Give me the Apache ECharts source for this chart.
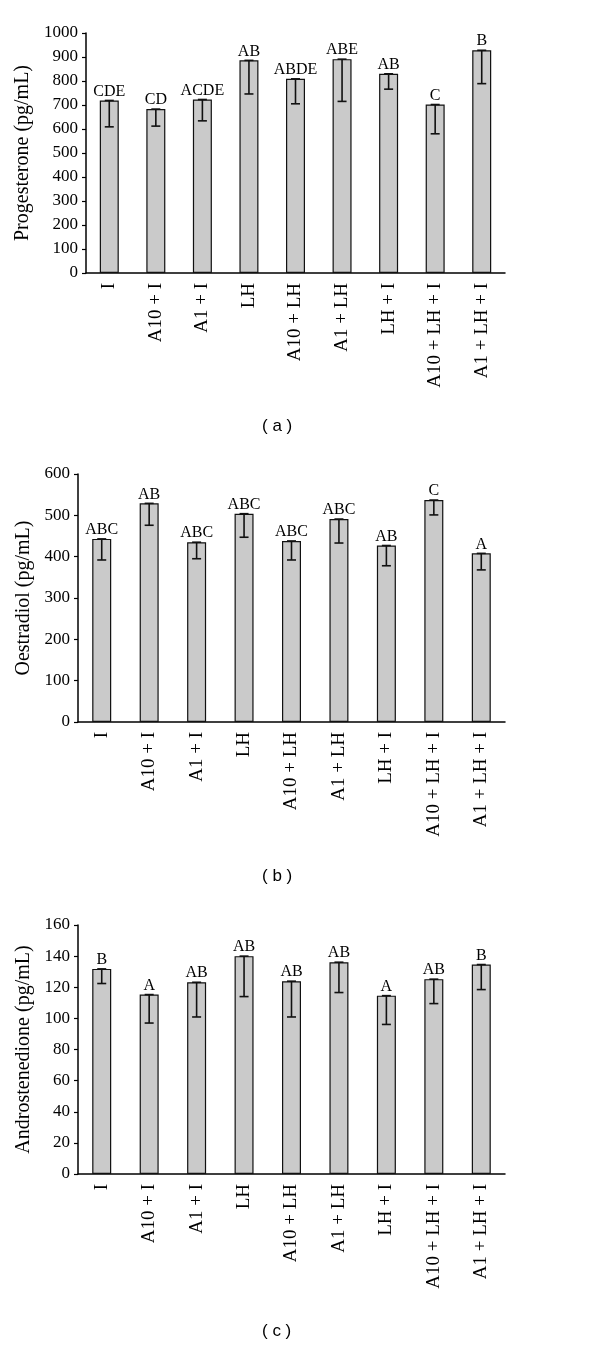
<!DOCTYPE html>
<html>
<head>
<meta charset="utf-8">
<script src="https://cdn.jsdelivr.net/npm/echarts@6/dist/echarts.min.js"></script>
<style>
  html, body { margin: 0; padding: 0; background: #fff; }
  #chart { width: 600px; height: 1346px; }
</style>
</head>
<body>
<div id="chart"></div>
<script>
// treatment groups, same for every panel
const groups = ['I', 'A10 + I', 'A1 + I', 'LH', 'A10 + LH', 'A1 + LH', 'LH + I', 'A10 + LH + I', 'A1 + LH + I']

// (a) progesterone
const progMean = [719, 683, 723, 886, 809, 891, 830, 702, 928]
const progSd = [110, 71, 89, 140, 104, 176, 64, 122, 139]
const progLetters = ['CDE', 'CD', 'ACDE', 'AB', 'ABDE', 'ABE', 'AB', 'C', 'B']

// (b) oestradiol
const oesMean = [443, 529, 435, 504, 438, 491, 427, 537, 408]
const oesSd = [51, 53, 40, 57, 46, 58, 49, 36, 40]
const oesLetters = ['ABC', 'AB', 'ABC', 'ABC', 'ABC', 'ABC', 'AB', 'C', 'A']

// (c) androstenedione
const andMean = [131.8, 115.3, 123.2, 140, 123.9, 136.1, 114.6, 125.2, 134.6]
const andSd = [9.4, 18.3, 22.3, 26, 23, 19.5, 18.5, 15.7, 16.1]
const andLetters = ['B', 'A', 'AB', 'AB', 'AB', 'AB', 'A', 'AB', 'B']

const serif = 'Liberation Serif'
const chart = echarts.init(document.getElementById('chart'))

function xAxisFor(i) {
  return {
    type: 'category',
    gridIndex: i,
    data: groups,
    axisLine: { lineStyle: { color: '#000', width: 1.5 } },
    axisTick: { length: 4, lineStyle: { color: '#000', width: 1.2 } },
    axisLabel: { rotate: 90, margin: 10, color: '#000', fontFamily: serif, fontSize: 19 },
  }
}

function yAxisFor(i, name, max, step, gap) {
  return {
    type: 'value',
    gridIndex: i,
    min: 0,
    max: max,
    interval: step,
    name: name,
    nameLocation: 'middle',
    nameGap: gap,
    nameTextStyle: { color: '#000', fontFamily: serif, fontSize: 20 },
    splitLine: { show: false },
    axisLine: { show: true, lineStyle: { color: '#000', width: 1.5 } },
    axisTick: { show: true, length: 4, lineStyle: { color: '#000', width: 1.2 } },
    axisLabel: { margin: 8, color: '#000', fontFamily: serif, fontSize: 17, formatter: (v) => String(v) },
  }
}

function barFor(i, mean, letters) {
  return {
    type: 'bar',
    xAxisIndex: i,
    yAxisIndex: i,
    data: mean,
    barWidth: 19,
    itemStyle: { color: '#cacaca', borderColor: '#111', borderWidth: 1.2 },
    label: {
      show: true,
      position: 'top',
      distance: 1,
      color: '#000',
      fontFamily: serif,
      fontSize: 16,
      formatter: (p) => letters[p.dataIndex],
    },
    z: 2,
  }
}

// error bar only goes down from the bar top
function errFor(i, mean, sd) {
  return {
    type: 'custom',
    xAxisIndex: i,
    yAxisIndex: i,
    data: mean.map((v, k) => [k, v, v - sd[k]]),
    z: 5,
    renderItem: (params, api) => {
      const top = api.coord([api.value(0), api.value(1)])
      const low = api.coord([api.value(0), api.value(2)])
      const w = 4.5
      const style = { stroke: '#111', lineWidth: 1.6 }
      return {
        type: 'group',
        children: [
          { type: 'line', shape: { x1: top[0], y1: top[1], x2: low[0], y2: low[1] }, style },
          { type: 'line', shape: { x1: top[0] - w, y1: top[1], x2: top[0] + w, y2: top[1] }, style },
          { type: 'line', shape: { x1: low[0] - w, y1: low[1], x2: low[0] + w, y2: low[1] }, style },
        ],
      }
    },
  }
}

function caption(txt, y) {
  return {
    type: 'text',
    left: 280 - 18,
    top: y - 10,
    style: { text: txt, fill: '#000', font: '17px "Liberation Sans"' },
  }
}

chart.setOption({
  animation: false,
  grid: [
    { left: 86, right: 95, top: 33, height: 240 },
    { left: 78, right: 95, top: 474, height: 248 },
    { left: 78, right: 95, top: 925, height: 249 },
  ],
  xAxis: [xAxisFor(0), xAxisFor(1), xAxisFor(2)],
  yAxis: [
    yAxisFor(0, 'Progesterone (pg/mL)', 1000, 100, 41),
    yAxisFor(1, 'Oestradiol (pg/mL)', 600, 100, 37),
    yAxisFor(2, 'Androstenedione (pg/mL)', 160, 20, 35),
  ],
  series: [
    barFor(0, progMean, progLetters),
    errFor(0, progMean, progSd),
    barFor(1, oesMean, oesLetters),
    errFor(1, oesMean, oesSd),
    barFor(2, andMean, andLetters),
    errFor(2, andMean, andSd),
  ],
  graphic: [
    caption('( a )', 428),
    caption('( b )', 878),
    caption('( c )', 1333),
  ],
})
</script>
</body>
</html>
